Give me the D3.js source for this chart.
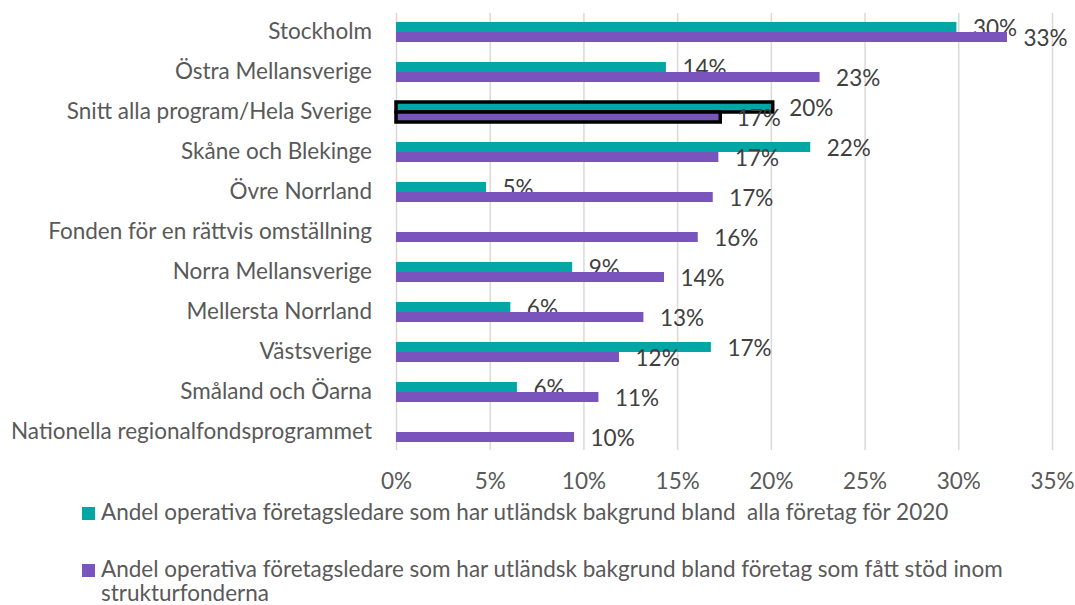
<!DOCTYPE html>
<html>
<head>
<meta charset="utf-8">
<script src="https://cdn.jsdelivr.net/npm/d3@7"></script>
<style>
  body { margin: 0; background: #fff; }
  svg { font-family: "Lato", "Open Sans", sans-serif; }
  .grid line { stroke: #d9d9d9; stroke-width: 1.5; }
</style>
</head>
<body>
<div id="chart"></div>
<script>
// Data
const categories = [
  "Stockholm",
  "Östra Mellansverige",
  "Snitt alla program/Hela Sverige",
  "Skåne och Blekinge",
  "Övre Norrland",
  "Fonden för en rättvis omställning",
  "Norra Mellansverige",
  "Mellersta Norrland",
  "Västsverige",
  "Småland och Öarna",
  "Nationella regionalfondsprogrammet"
];
const allaForetag = [0.299, 0.144, 0.201, 0.221, 0.048, null, 0.094, 0.061, 0.168, 0.0645, null];
const stodForetag = [0.326, 0.226, 0.173, 0.172, 0.169, 0.161, 0.143, 0.132, 0.119, 0.108, 0.095];
const legendLines = [
  ["Andel operativa företagsledare som har utländsk bakgrund bland  alla företag för 2020"],
  ["Andel operativa företagsledare som har utländsk bakgrund bland företag som fått stöd inom", "strukturfonderna"]
];
const xTicks = [0, 0.05, 0.10, 0.15, 0.20, 0.25, 0.30, 0.35];
const highlight = "Snitt alla program/Hela Sverige";
const colors = ["#02a6a4", "#7954bc"];

const width = 1075, height = 605;
const fontSize = "22.5px";
const svg = d3.select("#chart").append("svg")
  .attr("width", width)
  .attr("height", height);

// Scales
const x = d3.scaleLinear().domain([0, 0.35]).range([396, 1052]);
const y0 = d3.scaleBand().domain(categories).range([12, 452]).paddingInner(0.5).paddingOuter(0.25);
const y1 = d3.scaleBand().domain([0, 1]).range([0, y0.bandwidth()]);

// Gridlines
svg.append("g")
  .attr("class", "grid")
  .attr("transform", "translate(0,450)")
  .call(d3.axisBottom(x).tickValues(xTicks).tickSize(-437).tickFormat(""))
  .call(g => g.select(".domain").remove());

// X axis labels
svg.append("g")
  .attr("transform", "translate(0,450)")
  .call(d3.axisBottom(x).tickValues(xTicks).tickSize(0).tickFormat(d3.format(".0%")))
  .call(g => g.select(".domain").remove())
  .call(g => g.selectAll("text")
    .attr("y", 31).attr("dy", "0.35em")
    .attr("fill", "#595959")
    .style("font-size", fontSize)
    .style("font-family", "Lato"));

// Y axis labels
svg.append("g")
  .attr("transform", "translate(396,0)")
  .call(d3.axisLeft(y0).tickSize(0).tickPadding(24))
  .call(g => g.select(".domain").remove())
  .call(g => g.selectAll("text")
    .attr("fill", "#595959")
    .style("font-size", fontSize)
    .style("font-family", "Lato"));

// Bars
const rows = categories.map((c, i) => ({
  name: c,
  values: [allaForetag[i], stodForetag[i]]
}));

const groups = svg.selectAll("g.row")
  .data(rows)
  .join("g")
  .attr("class", "row")
  .attr("transform", d => `translate(0,${y0(d.name)})`);

const cells = groups.selectAll("g.cell")
  .data(d => d.values.map((v, s) => ({name: d.name, s: s, v: v})).filter(d => d.v !== null))
  .join("g")
  .attr("class", "cell");

cells.append("rect")
  .attr("x", x(0))
  .attr("y", d => y1(d.s))
  .attr("width", d => x(d.v) - x(0))
  .attr("height", y1.bandwidth())
  .attr("fill", d => colors[d.s])
  .attr("stroke", d => d.name === highlight ? "#000" : "none")
  .attr("stroke-width", 3.5);

// Data labels
cells.append("text")
  .attr("x", d => x(d.v) + 16.5)
  .attr("y", d => y1(d.s) + y1.bandwidth() / 2 + 1.5)
  .attr("dy", "0.35em")
  .attr("fill", "#404040")
  .style("font-size", fontSize)
  .text(d => d3.format(".0%")(d.v));

// Legend
const legend = svg.selectAll("g.legend")
  .data(legendLines)
  .join("g")
  .attr("class", "legend")
  .attr("transform", (d, i) => `translate(82,${i === 0 ? 507 : 564})`);

legend.append("rect")
  .attr("width", 13)
  .attr("height", 13)
  .attr("fill", (d, i) => colors[i]);

legend.each(function(lines) {
  const t = d3.select(this).append("text")
    .attr("x", 19)
    .attr("y", 12.5)
    .attr("fill", "#595959")
    .style("font-size", fontSize)
    .style("white-space", "pre");
  lines.forEach((l, j) => {
    t.append("tspan").attr("x", 19).attr("dy", j === 0 ? 0 : 24.5).text(l);
  });
});
</script>
</body>
</html>
